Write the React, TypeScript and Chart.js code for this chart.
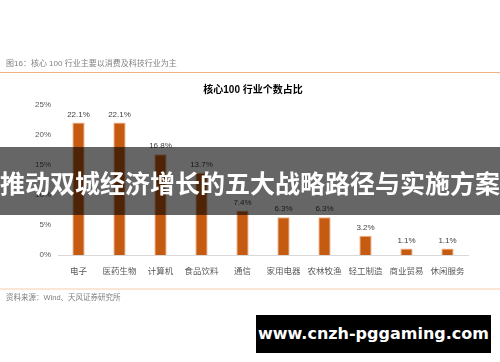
import React, { useEffect, useRef } from "react";
import { Chart, registerables } from "chart.js";

Chart.register(...registerables);

const categories = ["电子", "医药生物", "计算机", "食品饮料", "通信", "家用电器", "农林牧渔", "轻工制造", "商业贸易", "休闲服务"];
const shares = [22.1, 22.1, 16.8, 13.7, 7.4, 6.3, 6.3, 3.2, 1.1, 1.1];
const yTicks = [0, 5, 10, 15, 20, 25];

const headerText = "图16：核心 100 行业主要以消费及科技行业为主";
const chartTitle = "核心100 行业个数占比";
const sourceText = "资料来源：Wind、天风证券研究所";
const bannerText = "推动双城经济增长的五大战略路径与实施方案";
const watermarkText = "www.cnzh-pggaming.com";

const FONT = "'Liberation Sans', 'Noto Sans CJK SC', sans-serif";

const valueLabels = {
  id: "valueLabels",
  afterDatasetsDraw(chart: any) {
    const ctx = chart.ctx;
    const meta = chart.getDatasetMeta(0);
    ctx.save();
    ctx.font = `8px ${FONT}`;
    ctx.fillStyle = "#404040";
    ctx.textAlign = "center";
    ctx.textBaseline = "bottom";
    meta.data.forEach((bar: any, i: number) => {
      ctx.fillText(shares[i].toFixed(1) + "%", bar.x, bar.y - 4);
    });
    ctx.restore();
  },
};

export default function App() {
  const ref = useRef<HTMLCanvasElement | null>(null);

  useEffect(() => {
    if (!ref.current) return;
    const chart = new Chart(ref.current, {
      type: "bar",
      data: {
        labels: categories,
        datasets: [
          {
            data: shares,
            backgroundColor: "#C55A11",
            borderColor: "#F4B183",
            borderWidth: 1,
            categoryPercentage: 1,
            barPercentage: 0.3,
          },
        ],
      },
      options: {
        animation: false,
        responsive: false,
        maintainAspectRatio: false,
        layout: { padding: { top: 105, bottom: 87, left: 18, right: 32 } },
        plugins: {
          legend: { display: false },
          tooltip: { enabled: false },
          title: { display: false },
        },
        scales: {
          x: {
            grid: { display: false },
            border: { color: "#d9d9d9", width: 1 },
            ticks: {
              color: "#595959",
              font: { size: 8.5, family: FONT },
              padding: 4,
              maxRotation: 0,
              autoSkip: false,
            },
            afterFit: (s: any) => {
              s.height = 20;
            },
          },
          y: {
            min: 0,
            max: 25,
            grid: { display: false, drawTicks: false },
            border: { display: false },
            afterBuildTicks: (s: any) => {
              s.ticks = yTicks.map((v) => ({ value: v }));
            },
            ticks: {
              color: "#595959",
              font: { size: 8, family: FONT },
              padding: 7,
              callback: (v: any) => v + "%",
            },
            afterFit: (s: any) => {
              s.width = 40;
            },
          },
        },
      },
      plugins: [valueLabels],
    });
    return () => chart.destroy();
  }, []);

  return (
    <div style={{ position: "absolute", left: 0, top: 0, width: 500, height: 362, background: "#fff", overflow: "hidden" }}>
      <canvas ref={ref} width={500} height={362} style={{ position: "absolute", left: 0, top: 0, width: 500, height: 362 }} />
      <div style={{ position: "absolute", left: 6, top: 58, fontSize: 8, lineHeight: "12px", color: "#7f7f7f", fontFamily: FONT, whiteSpace: "nowrap" }}>
        {headerText}
      </div>
      <div style={{ position: "absolute", left: 0, top: 72, width: 500, height: 1, background: "#F4B183" }} />
      <div style={{ position: "absolute", left: 0, top: 83, width: 506, textAlign: "center", fontSize: 10, lineHeight: "14px", fontWeight: "bold", color: "#000", fontFamily: FONT }}>
        {chartTitle}
      </div>
      <div style={{ position: "absolute", left: 0, top: 288, width: 500, height: 2, background: "#FBE5D6" }} />
      <div style={{ position: "absolute", left: 6, top: 292, fontSize: 7.5, lineHeight: "12px", color: "#7f7f7f", fontFamily: FONT, whiteSpace: "nowrap" }}>
        {sourceText}
      </div>
      <div style={{ position: "absolute", left: 0, top: 147, width: 500, height: 68, background: "rgba(0,0,0,0.6)" }} />
      <div style={{ position: "absolute", left: -10, top: 165, width: 520, textAlign: "center", fontSize: 25, lineHeight: "34px", fontWeight: "bold", color: "#fff", fontFamily: "'Noto Sans CJK SC', sans-serif", whiteSpace: "nowrap" }}>
        {bannerText}
      </div>
      <div style={{ position: "absolute", left: 256, top: 315, width: 235, height: 38, background: "#000", color: "#fff", fontWeight: "bold", fontSize: 16, lineHeight: "38px", textAlign: "center", fontFamily: "'DejaVu Sans', sans-serif", whiteSpace: "nowrap" }}>
        {watermarkText}
      </div>
    </div>
  );
}
